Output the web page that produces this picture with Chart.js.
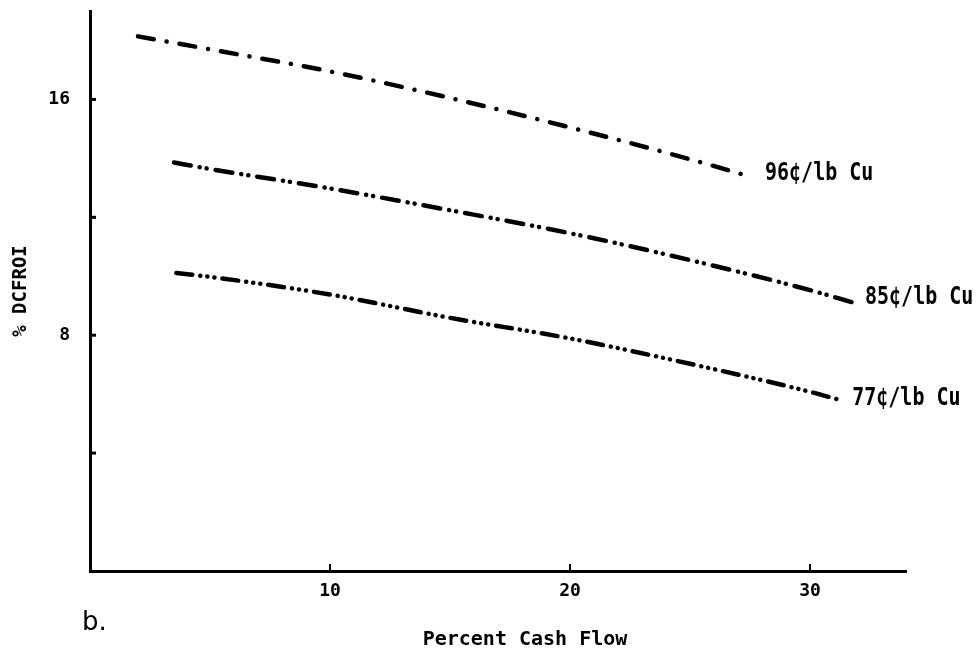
<!DOCTYPE html>
<html>
<head>
<meta charset="utf-8">
<script src="https://cdn.jsdelivr.net/npm/chart.js@4.4.0/dist/chart.umd.min.js"></script>
<style>
html,body{margin:0;padding:0;background:#fff;}
#wrap{width:977px;height:658px;position:relative;}
</style>
</head>
<body>
<div id="wrap"><canvas id="c" width="977" height="658"></canvas></div>
<script>
// Data
const seriesNames = ["96¢/lb Cu", "85¢/lb Cu", "77¢/lb Cu"];
const cash96 = [2, 5, 10, 15, 20, 25, 27.5];
const roi96  = [18.14, 17.7, 16.95, 16.05, 15.05, 13.97, 13.38];
const cash85 = [3.5, 5, 10, 15, 20, 25, 30, 31.75];
const roi85  = [13.86, 13.64, 12.98, 12.24, 11.46, 10.55, 9.53, 9.12];
const cash77 = [3.6, 5, 10, 15, 20, 25, 30, 31.3];
const roi77  = [10.11, 9.98, 9.38, 8.59, 7.89, 7.03, 6.08, 5.79];
const xTickLabels = [10, 20, 30];
const yTickLabels = [8, 16];
const yTickMarks = [4, 8, 12, 16];
const xTitle = "Percent Cash Flow";
const yTitle = "% DCFROI";
const panelLabel = "b.";

const toPts = (xs, ys) => xs.map((x, i) => ({x: x, y: ys[i]}));

const MONO = "'DejaVu Sans Mono', monospace";

const decorPlugin = {
  id: 'decor',
  afterDraw(chart) {
    const ctx = chart.ctx;
    const xs = chart.scales.x, ys = chart.scales.y;
    const area = chart.chartArea;
    ctx.save();
    ctx.strokeStyle = '#000';
    ctx.lineCap = 'butt';
    // y tick marks (inward)
    ctx.lineWidth = 3;
    yTickMarks.forEach(v => {
      const py = ys.getPixelForValue(v);
      ctx.beginPath();
      ctx.moveTo(area.left, py);
      ctx.lineTo(area.left + 6, py);
      ctx.stroke();
    });
    // x tick marks (inward)
    ctx.lineWidth = 2;
    xTickLabels.forEach(v => {
      const px = xs.getPixelForValue(v);
      ctx.beginPath();
      ctx.moveTo(px, area.bottom);
      ctx.lineTo(px, area.bottom - 7);
      ctx.stroke();
    });
    // series end labels
    ctx.fillStyle = '#000';
    ctx.textBaseline = 'middle';
    ctx.textAlign = 'left';
    chart.data.datasets.forEach((ds, i) => {
      const meta = chart.getDatasetMeta(i);
      const last = meta.data[meta.data.length - 1];
      const offs = [[15, -3], [13, -5], [11, -2]][i];
      ctx.save();
      ctx.translate(last.x + offs[0], last.y + offs[1]);
      ctx.scale(0.8, 1);
      ctx.font = "bold 25px " + MONO;
      ctx.fillText(ds.label, 0, 0);
      ctx.restore();
    });
    // x title
    ctx.font = "bold 20px " + MONO;
    ctx.textAlign = 'center';
    ctx.textBaseline = 'alphabetic';
    ctx.fillText(xTitle, 525, 645);
    // panel label
    ctx.font = "26px 'DejaVu Sans', sans-serif";
    ctx.textAlign = 'left';
    ctx.fillText(panelLabel, 82, 630);
    ctx.restore();
  }
};

new Chart(document.getElementById('c'), {
  type: 'line',
  data: {
    datasets: [
      {label: seriesNames[0], data: toPts(cash96, roi96), borderDash: [16, 13, 0.1, 13]},
      {label: seriesNames[1], data: toPts(cash85, roi85), borderDash: [17, 9, 0.1, 7, 0.1, 9]},
      {label: seriesNames[2], data: toPts(cash77, roi77), borderDash: [16, 8, 0.1, 7, 0.1, 7, 0.1, 8]}
    ].map(d => Object.assign(d, {
      borderColor: '#000',
      borderWidth: 4.5,
      borderCapStyle: 'round',
      pointRadius: 0,
      fill: false,
      cubicInterpolationMode: 'monotone'
    }))
  },
  options: {
    responsive: false,
    animation: false,
    events: [],
    layout: {padding: {left: 0, top: 11, right: 71, bottom: 0}},
    plugins: {legend: {display: false}, tooltip: {enabled: false}},
    scales: {
      x: {
        type: 'linear',
        min: 0, max: 34,
        grid: {display: false, drawTicks: false},
        border: {display: true, color: '#000', width: 3},
        ticks: {
          stepSize: 10,
          padding: 10,
          color: '#000',
          font: {family: MONO, size: 18, weight: 'bold'},
          maxRotation: 0,
          callback: v => xTickLabels.includes(v) ? String(v) : ''
        },
        afterFit: s => { s.height = 87; s.paddingLeft = 0; s.paddingRight = 0; }
      },
      y: {
        type: 'linear',
        min: 0, max: 19,
        grid: {display: false, drawTicks: false},
        border: {display: true, color: '#000', width: 3},
        ticks: {
          stepSize: 4,
          padding: 20,
          color: '#000',
          font: {family: MONO, size: 18, weight: 'bold'},
          callback: v => yTickLabels.includes(v) ? String(v) : ''
        },
        title: {
          display: true,
          text: yTitle,
          color: '#000',
          font: {family: MONO, size: 19, weight: 'bold'},
          padding: {top: 10, bottom: 0}
        },
        afterFit: s => { s.width = 90; s.paddingTop = 0; s.paddingBottom = 0; }
      }
    }
  },
  plugins: [decorPlugin]
});
</script>
</body>
</html>
